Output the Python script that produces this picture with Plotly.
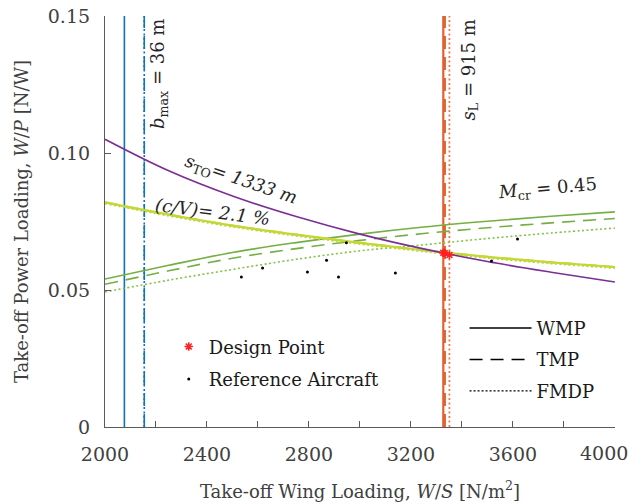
import plotly.graph_objects as go

# Wing-loading grid used for the constraint curves [N/m^2]
ws_grid = [2000, 2250, 2500, 2750, 3000, 3250, 3500, 3750, 4000]

# Take-off distance constraint, s_TO = 1333 m [N/W]
wp_takeoff = [0.1050, 0.0935, 0.0843, 0.0768, 0.0704, 0.0650, 0.0604, 0.0565, 0.0529]

# Climb gradient constraint, (c/V) = 2.1 %
wp_climb_wmp = [0.0820, 0.0775, 0.0735, 0.0702, 0.0672, 0.0645, 0.0621, 0.0601, 0.0584]
wp_climb_tmp = [0.0820, 0.0775, 0.0735, 0.0702, 0.0672, 0.0645, 0.0621, 0.0601, 0.0584]
wp_climb_fmdp = [0.0816, 0.0771, 0.0731, 0.0698, 0.0668, 0.0641, 0.0617, 0.0597, 0.0580]

# Cruise constraint, M_cr = 0.45
wp_cruise_wmp = [0.0540, 0.0590, 0.0637, 0.0673, 0.0704, 0.0730, 0.0751, 0.0769, 0.0785]
wp_cruise_tmp = [0.0521, 0.0570, 0.0616, 0.0651, 0.0681, 0.0706, 0.0727, 0.0745, 0.0761]
wp_cruise_fmdp = [0.0493, 0.0536, 0.0575, 0.0612, 0.0643, 0.0665, 0.0688, 0.0708, 0.0726]

# Span limit b_max = 36 m: maximum wing loading per method
ws_span = {"WMP": 2076, "TMP": 2154, "FMDP": 2154}
# Landing distance s_L = 915 m: maximum wing loading per method
ws_landing = {"WMP": 3327, "TMP": 3333, "FMDP": 3351}

# Design points (WMP, TMP, FMDP)
design_ws = [3327, 3333, 3351]
design_wp = [0.0636, 0.0634, 0.0628]

# Reference aircraft
ref_ws = [2535, 2618, 2794, 2869, 2916, 2947, 3139, 3516, 3618]
ref_wp = [0.0547, 0.0580, 0.0566, 0.0609, 0.0547, 0.0672, 0.0562, 0.0606, 0.0686]

X_MIN, X_MAX = 2000, 4000
Y_MIN, Y_MAX = 0, 0.15
x_ticks = list(range(X_MIN, X_MAX + 1, 200))
# every other tick is labelled; the last label is placed separately so it stays inside the page
x_ticktext = [str(v) if (v % 400 == 0 and v != X_MAX) else " " for v in x_ticks]
y_ticks = [0, 0.05, 0.10, 0.15]
y_ticktext = ["0", "0.05", "0.10", "0.15"]

SERIF = "DejaVu Serif"
TEXT_GREY = "#404040"

BLUE = "#0f72bd"
ORANGE = "#e4602f"
PURPLE = "#7b2f93"
LIME = "#c3d834"
LIME_DOT = "#b9d24a"
GREEN = "#74b041"
GREEN_DOT = "#84c246"

dash_map = {"WMP": "solid", "TMP": "13px,8px", "FMDP": "2px,2.5px"}

fig = go.Figure()


def curve(x, y, color, dash, width=1.6):
    fig.add_trace(go.Scatter(
        x=x, y=y, mode="lines", line=dict(color=color, dash=dash, width=width, shape="spline"),
        showlegend=False, hoverinfo="skip"))


# Vertical constraints: span limit and landing distance
for method, ws in ws_span.items():
    curve([ws, ws], [Y_MIN, Y_MAX], BLUE, dash_map[method], 1.6)
for method, ws in ws_landing.items():
    color = ORANGE if method != "FMDP" else "#ee7a50"
    curve([ws, ws], [Y_MIN, Y_MAX], color, dash_map[method], 2.2 if method != "FMDP" else 1.8)

# Cruise speed constraint
curve(ws_grid, wp_cruise_wmp, GREEN, dash_map["WMP"])
curve(ws_grid, wp_cruise_tmp, GREEN, dash_map["TMP"])
curve(ws_grid, wp_cruise_fmdp, GREEN_DOT, dash_map["FMDP"])

# Climb gradient constraint
curve(ws_grid, wp_climb_fmdp, LIME_DOT, dash_map["FMDP"], 2.0)
curve(ws_grid, wp_climb_tmp, LIME, dash_map["TMP"], 2.2)
curve(ws_grid, wp_climb_wmp, LIME, dash_map["WMP"], 2.2)

# Take-off distance constraint
curve(ws_grid, wp_takeoff, PURPLE, "solid", 1.6)

# Design points and reference aircraft
fig.add_trace(go.Scatter(
    x=design_ws, y=design_wp, mode="markers", name="Design Point",
    marker=dict(symbol="asterisk-open", color="#ff2020", size=7, line=dict(color="#ff2020", width=1.5)),
    legend="legend", legendgroup="design"))
fig.add_trace(go.Scatter(
    x=ref_ws, y=ref_wp, mode="markers", name="Reference Aircraft",
    marker=dict(color="black", size=3), legend="legend", legendgroup="ref"))

# Line-style key for the three methods
for method in ["WMP", "TMP", "FMDP"]:
    fig.add_trace(go.Scatter(
        x=[None], y=[None], mode="lines", name=method,
        line=dict(color="black", dash=dash_map[method] if method != "FMDP" else "2px,2px", width=1.4),
        legend="legend2", legendgroup=method))

label_font = dict(family=SERIF, size=18, color="#262626")
annotations = [
    dict(x=2214, y=0.1495, text="<i>b</i><sub>max</sub> = 36 m", textangle=-90,
         xanchor="center", yanchor="top"),
    dict(x=3430, y=0.1495, text="<i>s</i><sub>L</sub> = 915 m", textangle=-90,
         xanchor="center", yanchor="top"),
    dict(x=2530, y=0.0900, text="<i>s</i><sub>TO</sub><i>= 1333 m</i>", textangle=19,
         xanchor="center", yanchor="middle"),
    dict(x=2420, y=0.0787, text="<i>(c/V)= 2.1 %</i>", textangle=7,
         xanchor="center", yanchor="middle"),
    dict(x=3735, y=0.0868, text="<i>M</i><sub>cr</sub> = 0.45", textangle=-5,
         xanchor="center", yanchor="middle"),
]
for a in annotations:
    a.update(xref="x", yref="y", showarrow=False, font=label_font)

# last x tick label, kept inside the right page edge
annotations.append(dict(
    x=X_MAX, y=0, xref="x", yref="paper", text=str(X_MAX), showarrow=False,
    xanchor="right", yanchor="top", xshift=15, yshift=-13,
    font=dict(family=SERIF, size=19, color=TEXT_GREY)))

axis_common = dict(
    showline=True, linecolor="#5a5a5a", linewidth=1.2, mirror=False,
    ticks="inside", ticklen=6, tickcolor="#5a5a5a", tickwidth=1.2,
    showgrid=False, zeroline=False, automargin=False,
    tickfont=dict(family=SERIF, size=19, color=TEXT_GREY),
)

fig.update_layout(
    width=632, height=504,
    margin=dict(l=105, r=17, t=16, b=77),
    paper_bgcolor="white", plot_bgcolor="white",
    showlegend=True,
    font=dict(family=SERIF),
    xaxis=dict(
        range=[X_MIN, X_MAX + 0.5], tickvals=x_ticks, ticktext=x_ticktext,
        ticklabelstandoff=10,
        title=dict(text="Take-off Wing Loading, <i>W</i>/<i>S</i> [N/m<sup>2</sup>]",
                   font=dict(family=SERIF, size=18, color=TEXT_GREY), standoff=21),
        **axis_common),
    yaxis=dict(
        range=[Y_MIN, Y_MAX], tickvals=y_ticks, ticktext=y_ticktext,
        ticklabelstandoff=10,
        title=dict(text="Take-off Power Loading, <i>W</i>/<i>P</i> [N/W]",
                   font=dict(family=SERIF, size=18, color=TEXT_GREY), standoff=14),
        **axis_common),
    legend=dict(
        x=0.125, y=0.24, xanchor="left", yanchor="top",
        bgcolor="rgba(0,0,0,0)", traceorder="grouped", tracegroupgap=6,
        font=dict(family=SERIF, size=18, color="#1a1a1a"), itemwidth=30),
    legend2=dict(
        x=0.705, y=0.285, xanchor="left", yanchor="top",
        bgcolor="rgba(0,0,0,0)", traceorder="grouped", tracegroupgap=5,
        font=dict(family=SERIF, size=18, color="#1a1a1a"), itemwidth=62),
    annotations=annotations,
)

fig.write_html("out.html")
